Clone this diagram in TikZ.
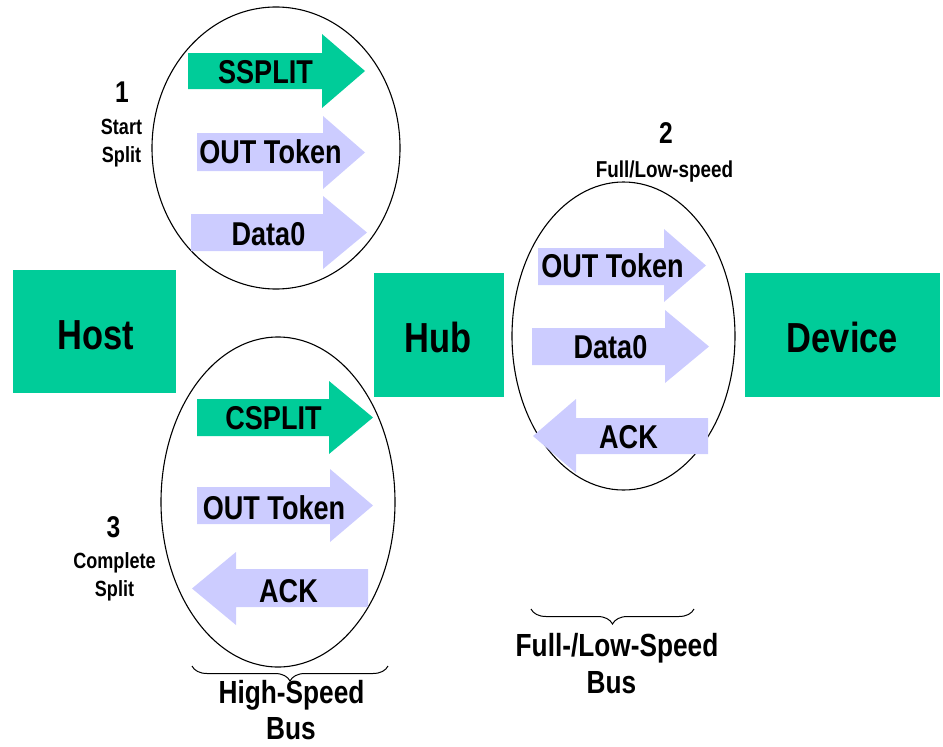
\documentclass[tikz,border=0pt]{standalone}
\usepackage{fontspec}
\setmainfont{Liberation Sans}[FakeStretch=0.82]
\usetikzlibrary{decorations.pathreplacing}
\definecolor{boxgreen}{RGB}{0,204,153}
\definecolor{lavender}{RGB}{204,204,255}
\newcommand{\fs}[1]{\fontsize{#1}{#1}\selectfont\bfseries}
\begin{document}
\begin{tikzpicture}[x=1pt,y=-1pt,
  blockbox/.style={fill=boxgreen},
  grnarrow/.style={fill=boxgreen},
  lavarrow/.style={fill=lavender},
  bubble/.style={draw=black,line width=1.1pt},
  alabel/.style={anchor=base,inner sep=0pt,font=\fs{33}},
  blabel/.style={anchor=base,inner sep=0pt,font=\fs{42}},
  numlabel/.style={anchor=base,inner sep=0pt,font=\fs{30}},
  smlabel/.style={anchor=base,inner sep=0pt,font=\fs{22}},
  buslabel/.style={anchor=base,inner sep=0pt,font=\fs{32}},
  bracestyle/.style={draw=black,line width=1pt,decorate,decoration={brace,mirror,amplitude=15pt}}]
\useasboundingbox (0,0) rectangle (943,747);
% boxes
\fill[blockbox] (13,270) rectangle (176,393);
\fill[blockbox] (374,273) rectangle (504,397);
\fill[blockbox] (745,273) rectangle (940,397);
\node[blabel] (host) at (95.5,349) {Host};
\node[blabel] (hub) at (438,352) {Hub};
\node[blabel] (device) at (842.5,352) {Device};
% ellipses
\draw[bubble] (276,148) ellipse [x radius=124, y radius=141];
\draw[bubble] (278,502) ellipse [x radius=117, y radius=165];
\draw[bubble] (623.5,336) ellipse [x radius=111.5, y radius=154];
% top bubble arrows
\fill[grnarrow] (188,53) -- (322,53) -- (322,34) -- (365,71) -- (322,108) -- (322,89) -- (188,89) -- cycle;
\fill[lavarrow] (197,133) -- (323,133) -- (323,116) -- (365,152.5) -- (323,189) -- (323,171) -- (197,171) -- cycle;
\fill[lavarrow] (191,214) -- (323,214) -- (323,196) -- (367,232.5) -- (323,269) -- (323,251) -- (191,251) -- cycle;
\node[alabel] (ssplit) at (265.5,83) {SSPLIT};
\node[alabel] (outa) at (270.5,163) {OUT Token};
\node[alabel] (dataa) at (268.5,245) {Data0};
% bottom bubble arrows
\fill[grnarrow] (197,399) -- (329,399) -- (329,381) -- (373,417.5) -- (329,454) -- (329,436) -- (197,436) -- cycle;
\fill[lavarrow] (197,487) -- (330,487) -- (330,469) -- (373,505.5) -- (330,542) -- (330,524) -- (197,524) -- cycle;
\fill[lavarrow] (368,569) -- (236,569) -- (236,552) -- (192,588.5) -- (236,625) -- (236,607) -- (368,607) -- cycle;
\node[alabel] (csplit) at (273.5,429) {CSPLIT};
\node[alabel] (outc) at (274,519) {OUT Token};
\node[alabel] (ackc) at (288.5,602) {ACK};
% middle bubble arrows
\fill[lavarrow] (538,248) -- (664,248) -- (664,229) -- (706,265.5) -- (664,302) -- (664,285) -- (538,285) -- cycle;
\fill[lavarrow] (532,328) -- (665,328) -- (665,310) -- (709,346.5) -- (665,383) -- (665,365) -- (532,365) -- cycle;
\fill[lavarrow] (708,418) -- (576,418) -- (576,399) -- (533,436) -- (576,473) -- (576,454) -- (708,454) -- cycle;
\node[alabel] (outb) at (612.5,277) {OUT Token};
\node[alabel] (datab) at (610.5,358) {Data0};
\node[alabel] (ackb) at (628.5,448) {ACK};
% step labels
\node[numlabel] (n1) at (122,102) {1};
\node[smlabel] (start1) at (121.5,134) {Start};
\node[smlabel] (split1) at (121.5,162) {Split};
\node[numlabel] (n2) at (666,143) {2};
\node[smlabel,font=\fs{23}] (fl) at (664.5,177) {Full/Low-speed};
\node[numlabel] (n3) at (113.5,537) {3};
\node[smlabel] (compl) at (114.5,568) {Complete};
\node[smlabel] (split3) at (114.5,596) {Split};
% braces
\coordinate (hbl) at (192,666);
\coordinate (hbr) at (388,666);
\draw[bracestyle] (hbl) -- (hbr);
\node[buslabel] (hs) at (291.5,703) {High-Speed};
\node[buslabel] (hsbus) at (291,739) {Bus};
\coordinate (fbl) at (531,609);
\coordinate (fbr) at (694,609);
\draw[bracestyle] (fbl) -- (fbr);
\node[buslabel] (fs) at (617,656) {Full-/Low-Speed};
\node[buslabel] (fsbus) at (611.5,693) {Bus};
\end{tikzpicture}
\end{document}
